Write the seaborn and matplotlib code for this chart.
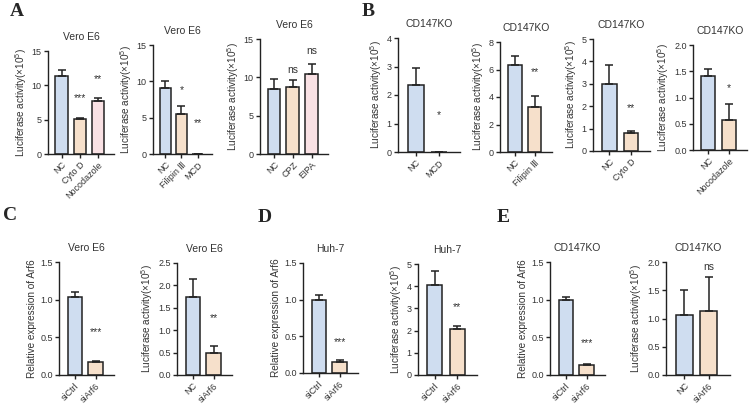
import numpy as np
import pandas as pd
import seaborn as sns
import matplotlib.pyplot as plt

# Data (mean, upper error, significance marks)
a1_labels = ["NC", "Cyto D", "Nocodazole"]
a1_means = [11.3, 5.1, 7.7]
a1_err = [1.0, 0.2, 0.5]
a1_sig = ["", "***", "**"]
a1_sig_y = [0, 8.1, 10.9]

a2_labels = ["NC", "Filipin \u2162", "MCD"]
a2_means = [9.1, 5.5, 0.0]
a2_err = [0.9, 1.1, 0.0]
a2_sig = ["", "*", "**"]
a2_sig_y = [0, 8.8, 4.3]

a3_labels = ["NC", "CPZ", "EIPA"]
a3_means = [8.5, 8.7, 10.5]
a3_err = [1.3, 0.9, 1.3]
a3_sig = ["", "ns", "ns"]
a3_sig_y = [0, 11.0, 13.4]

b1_labels = ["NC", "MCD"]
b1_means = [2.35, 0.0]
b1_err = [0.6, 0.0]
b1_sig = ["", "*"]
b1_sig_y = [0, 1.3]

b2_labels = ["NC", "Filipin \u2162"]
b2_means = [6.3, 3.25]
b2_err = [0.65, 0.85]
b2_sig = ["", "**"]
b2_sig_y = [0, 5.8]

b3_labels = ["NC", "Cyto D"]
b3_means = [3.0, 0.8]
b3_err = [0.85, 0.1]
b3_sig = ["", "**"]
b3_sig_y = [0, 1.9]

b4_labels = ["NC", "Nocodazole"]
b4_means = [1.41, 0.58]
b4_err = [0.13, 0.3]
b4_sig = ["", "*"]
b4_sig_y = [0, 1.18]

c1_labels = ["siCtrl", "siArf6"]
c1_means = [1.03, 0.17]
c1_err = [0.07, 0.02]
c1_sig = ["", "***"]
c1_sig_y = [0, 0.57]

c2_labels = ["NC", "siArf6"]
c2_means = [1.75, 0.5]
c2_err = [0.4, 0.14]
c2_sig = ["", "**"]
c2_sig_y = [0, 1.27]

d1_labels = ["siCtrl", "siArf6"]
d1_means = [1.0, 0.155]
d1_err = [0.07, 0.02]
d1_sig = ["", "***"]
d1_sig_y = [0, 0.42]

d2_labels = ["siCtrl", "siArf6"]
d2_means = [4.05, 2.05]
d2_err = [0.65, 0.15]
d2_sig = ["", "**"]
d2_sig_y = [0, 3.04]

e1_labels = ["siCtrl", "siArf6"]
e1_means = [1.0, 0.13]
e1_err = [0.03, 0.015]
e1_sig = ["", "***"]
e1_sig_y = [0, 0.42]

e2_labels = ["NC", "siArf6"]
e2_means = [1.06, 1.13]
e2_err = [0.44, 0.6]
e2_sig = ["", "ns"]
e2_sig_y = [0, 1.91]

LUC = "Luciferase activity(\u00d710$^5$)"
REL = "Relative expression of Arf6"

blue, peach, pink = "#c9dcf5", "#fde0c4", "#fddde1"

# title, labels, means, err, sig, sig_y, ymax, step, ylabel, box (left, right, top, bottom px), colours
panels = [
    ("Vero E6", a1_labels, a1_means, a1_err, a1_sig, a1_sig_y, 15, 5, LUC, (48, 114, 51, 154), [blue, peach, pink]),
    ("Vero E6", a2_labels, a2_means, a2_err, a2_sig, a2_sig_y, 15, 5, LUC, (153, 212, 45, 154), [blue, peach, peach]),
    ("Vero E6", a3_labels, a3_means, a3_err, a3_sig, a3_sig_y, 15, 5, LUC, (260, 328, 39, 154), [blue, peach, pink]),
    ("CD147KO", b1_labels, b1_means, b1_err, b1_sig, b1_sig_y, 4, 1, LUC, (398, 460, 38, 152), [blue, peach]),
    ("CD147KO", b2_labels, b2_means, b2_err, b2_sig, b2_sig_y, 8, 2, LUC, (500, 552, 42, 152), [blue, peach]),
    ("CD147KO", b3_labels, b3_means, b3_err, b3_sig, b3_sig_y, 5, 1, LUC, (593, 650, 39, 151), [blue, peach]),
    ("CD147KO", b4_labels, b4_means, b4_err, b4_sig, b4_sig_y, 2.0, 0.5, LUC, (693, 747, 45, 150), [blue, peach]),
    ("Vero E6", c1_labels, c1_means, c1_err, c1_sig, c1_sig_y, 1.5, 0.5, REL, (59, 114, 262, 375), [blue, peach]),
    ("Vero E6", c2_labels, c2_means, c2_err, c2_sig, c2_sig_y, 2.5, 0.5, LUC, (177, 232, 263, 375), [blue, peach]),
    ("Huh-7", d1_labels, d1_means, d1_err, d1_sig, d1_sig_y, 1.5, 0.5, REL, (303, 358, 263, 373), [blue, peach]),
    ("Huh-7", d2_labels, d2_means, d2_err, d2_sig, d2_sig_y, 5, 1, LUC, (418, 477, 264, 375), [blue, peach]),
    ("CD147KO", e1_labels, e1_means, e1_err, e1_sig, e1_sig_y, 1.5, 0.5, REL, (550, 605, 262, 375), [blue, peach]),
    ("CD147KO", e2_labels, e2_means, e2_err, e2_sig, e2_sig_y, 2.0, 0.5, LUC, (666, 730, 262, 375), [blue, peach]),
]

sns.set_style("ticks")
plt.rcParams["font.family"] = ["Liberation Sans", "DejaVu Sans"]
plt.rcParams["mathtext.default"] = "regular"

W, H = 750, 407
fig = plt.figure(figsize=(W / 100, H / 100), dpi=100)
edge = "#222222"
txt = "#333333"

for title, labels, means, err, sig, sig_y, ymax, step, ylabel, box, cols in panels:
    l, r, t, b = box
    ax = fig.add_axes([l / W, 1 - b / H, (r - l) / W, (b - t) / H])
    df = pd.DataFrame({"group": labels, "value": means})
    n = len(labels)
    sns.barplot(data=df, x="group", y="value", hue="group", palette=cols, legend=False,
                width=0.68, edgecolor=edge, linewidth=1.1, ax=ax)
    ax.errorbar(np.arange(n), means, yerr=[np.zeros(n), err], fmt="none",
                ecolor=edge, elinewidth=1.1, capsize=3, capthick=1.1, zorder=5)
    for i, s in enumerate(sig):
        if s:
            ax.text(i, sig_y[i], s, ha="center", va="center", fontsize=7.5, color=txt)
    ax.set_xlim(-0.75, n - 0.12)
    ax.set_ylim(0, ymax)
    ticks = np.arange(0, ymax + step / 2, step)
    ax.set_yticks(ticks)
    if step < 1:
        ax.set_yticklabels([f"{v:.1f}" for v in ticks])
    else:
        ax.set_yticklabels([f"{v:g}" for v in ticks])
    ax.set_xticks(range(n))
    ax.set_xticklabels(labels, rotation=45, ha="right", rotation_mode="anchor")
    ax.tick_params(labelsize=6.5, length=3, width=1, color=edge, labelcolor=txt, pad=1.5)
    ax.set_xlabel("")
    ax.set_ylabel(ylabel, fontsize=7.2, labelpad=2, color=txt)
    ax.set_title(title, fontsize=7.5, pad=8, color=txt)
    sns.despine(ax=ax)
    for sp in ["left", "bottom"]:
        ax.spines[sp].set_linewidth(1)
        ax.spines[sp].set_color(edge)

for letter, x, y in [("A", 17, 12), ("B", 368, 11), ("C", 10, 216), ("D", 265, 217), ("E", 503, 217)]:
    fig.text(x / W, 1 - y / H, letter, fontsize=14, fontweight="bold",
             family="Liberation Serif", ha="center", va="center")

fig.savefig("out.png", dpi=100)
